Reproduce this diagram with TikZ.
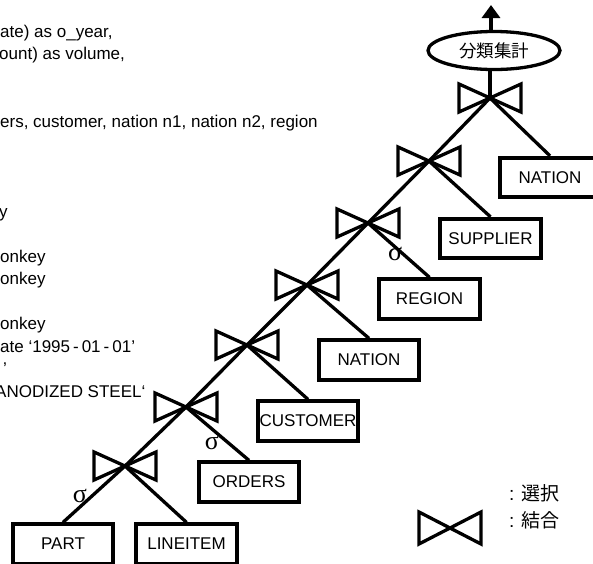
\documentclass[tikz,border=0pt]{standalone}
\usepackage{fontspec}
\setmainfont{Liberation Sans}
\newfontfamily\cjk{Noto Sans CJK JP}
\newfontfamily\grk{Liberation Serif}
\usetikzlibrary{arrows.meta,shapes.geometric}
\tikzset{
  edge/.style={line width=3.3pt},
  tbl/.style={draw, line width=3.8pt, minimum width=100.5pt, minimum height=39.5pt,
    inner sep=0pt, fill=white, font=\fontsize{17}{18}\selectfont},
  sel/.style={inner sep=0pt, font=\grk\fontsize{26}{26}\selectfont},
  sqlline/.style={anchor=base west, inner sep=0pt, font=\fontsize{17}{18}\selectfont},
  legendtext/.style={anchor=west, inner sep=0pt, font=\fontsize{19}{20}\selectfont},
  joinmark/.pic={\draw[line width=3.3pt] (-31,-14) -- (31,14) -- (31,-14) -- (-31,14) -- cycle;},
  joinmarkbig/.pic={\draw[line width=3.3pt] (-31,-16) -- (31,16) -- (31,-16) -- (-31,16) -- cycle;}
}
\begin{document}
\begin{tikzpicture}[x=1pt,y=-1pt]
\useasboundingbox (0,0) rectangle (593,563);
\clip (0,0) rectangle (593,563);

% query text, cut at the left border
\node[sqlline] (q1)  at (0,37)    {ate) as o\_year,};
\node[sqlline] (q2)  at (-1,59.5) {ount) as volume,};
\node[sqlline] (q3)  at (0,127)   {ers, customer, nation n1, nation n2, region};
\node[sqlline] (q4)  at (-1,217)  {y};
\node[sqlline] (q5)  at (0,262)   {onkey};
\node[sqlline] (q6)  at (0,284.5) {onkey};
\node[sqlline] (q7)  at (0,329.5) {onkey};
\node[sqlline] (q8)  at (0,352)   {ate ‘1995\hspace{3pt}-\hspace{3pt}01\hspace{3pt}-\hspace{3pt}01’};
\node[sqlline] (q9)  at (3,374.5) {’};
\node[sqlline] (q10) at (-5,397)  {ANODIZED STEEL‘};

% join points of the left-deep tree
\coordinate (j1) at (490,98);
\coordinate (j2) at (429,161);
\coordinate (j3) at (368,223);
\coordinate (j4) at (307,285);
\coordinate (j5) at (247,345);
\coordinate (j6) at (186,407);
\coordinate (j7) at (125,466);

% aggregation and result
\node[draw, ellipse, line width=3.3pt, minimum width=132pt, minimum height=38pt,
      inner sep=0pt, font=\cjk\fontsize{17.5}{18}\selectfont] (agg) at (494,50.5) {分類集計};
\coordinate (out) at (491,5);
\draw[edge, -{Triangle[length=13pt,width=18pt]}] (out |- agg.north) -- (out);
\draw[edge] (j1) -- (j1 |- agg.south);

% edges between joins
\draw[edge] (j1) -- (j2) -- (j3) -- (j4) -- (j5) -- (j6) -- (j7);

% base relations
\node[tbl] (nat1) at (550,177.5)   {NATION};
\node[tbl] (supp) at (490.5,238.5) {SUPPLIER};
\node[tbl] (regi) at (429.5,299)   {REGION};
\node[tbl] (nat2) at (369,360)     {NATION};
\node[tbl] (cust) at (308,421)     {CUSTOMER};
\node[tbl] (ordr) at (249,482)     {ORDERS};
\node[tbl] (part) at (63,544)      {PART};
\node[tbl] (line) at (186.5,544)   {LINEITEM};

\draw[edge] (j1) -- (nat1.north);
\draw[edge] (j2) -- (supp.north);
\draw[edge] (j3) -- (regi.north);
\draw[edge] (j4) -- (nat2.north);
\draw[edge] (j5) -- (cust.north);
\draw[edge] (j6) -- (ordr.north);
\draw[edge] (j7) -- (part.north);
\draw[edge] (j7) -- (line.north);

% join symbols
\foreach \j in {j1,j2,j3,j4,j5,j6,j7} { \pic at (\j) {joinmark}; }

% selections
\node[sel] (s1) at (80,496)  {σ};
\node[sel] (s2) at (212,443) {σ};
\node[sel] (s3) at (395,254) {σ};

% legend
\coordinate (lj) at (450,528);
\pic at (lj) {joinmarkbig};
\node[legendtext] (lsel) at (509,493) {: {\cjk 選択}};
\node[legendtext] (ljoi) at (509,520) {: {\cjk 結合}};
\end{tikzpicture}
\end{document}
